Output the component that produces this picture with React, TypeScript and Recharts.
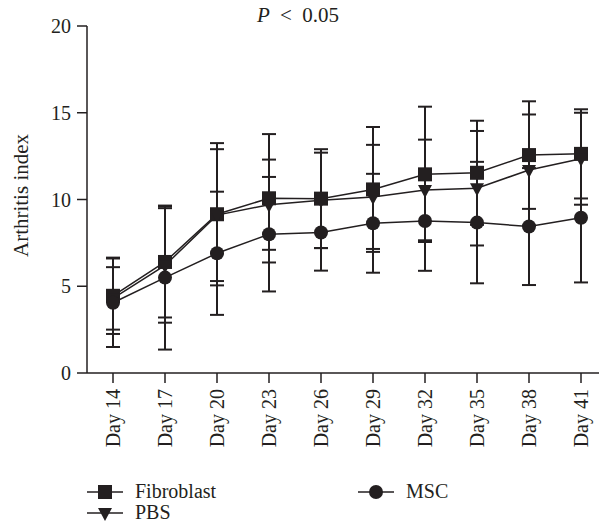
import { LineChart, Line, XAxis, YAxis, ErrorBar, Legend } from "recharts";

const days = ["Day 14", "Day 17", "Day 20", "Day 23", "Day 26", "Day 29", "Day 32", "Day 35", "Day 38", "Day 41"];
const fibroblast = [4.45, 6.4, 9.15, 10.07, 10.05, 10.58, 11.45, 11.54, 12.56, 12.63];
const fibroblastSd = [2.2, 3.2, 4.1, 3.7, 2.85, 3.6, 3.9, 3.0, 3.1, 2.57];
const pbs = [4.3, 6.2, 9.1, 9.7, 9.95, 10.15, 10.55, 10.65, 11.7, 12.35];
const pbsSd = [1.8, 3.3, 3.8, 2.6, 2.75, 3.0, 2.9, 3.3, 3.2, 2.65];
const msc = [4.05, 5.5, 6.9, 8.0, 8.1, 8.63, 8.76, 8.67, 8.44, 8.95];
const mscSd = [2.55, 4.15, 3.55, 3.3, 2.2, 2.85, 2.87, 3.5, 3.37, 3.73];
const yTicks = [0, 5, 10, 15, 20];

const data = days.map((day, i) => ({
  day,
  fibroblast: fibroblast[i],
  fibroblastSd: fibroblastSd[i],
  pbs: pbs[i],
  pbsSd: pbsSd[i],
  msc: msc[i],
  mscSd: mscSd[i],
}));

const ink = "#231f20";
const font = "'Liberation Serif', 'Times New Roman', serif";
const fs = 20;

const SquareDot = (props: any) => {
  const { cx, cy } = props;
  if (cx == null || cy == null) return null;
  return <rect x={cx - 7} y={cy - 7} width={14} height={14} fill={ink} />;
};

const TriangleDot = (props: any) => {
  const { cx, cy } = props;
  if (cx == null || cy == null) return null;
  return <path d={`M${cx - 7},${cy - 5} L${cx + 7},${cy - 5} L${cx},${cy + 8} Z`} fill={ink} />;
};

const CircleDot = (props: any) => {
  const { cx, cy } = props;
  if (cx == null || cy == null) return null;
  return <circle cx={cx} cy={cy} r={7} fill={ink} />;
};

const XTick = ({ x, y, payload }: any) => (
  <g transform={`translate(${x},${y})`}>
    <text transform="rotate(-90)" x={0} y={0} textAnchor="end" dominantBaseline="central" fill={ink} fontSize={fs} fontFamily={font}>
      {payload.value}
    </text>
  </g>
);

const YLabel = ({ viewBox }: any) => {
  const cx = viewBox.x + 21;
  const cy = viewBox.y + viewBox.height / 2 - 4;
  return (
    <text x={cx} y={cy} transform={`rotate(-90, ${cx}, ${cy})`} textAnchor="middle" dominantBaseline="central" fill={ink} fontSize={21} fontFamily={font}>
      Arthritis index
    </text>
  );
};

const marker = (kind: string) => (
  <svg width={36} height={20} style={{ position: "absolute", left: 0, top: -10 }}>
    <line x1={0} y1={10} x2={36} y2={10} stroke={ink} strokeWidth={1.5} />
    {kind === "square" && <rect x={11} y={3} width={14} height={14} fill={ink} />}
    {kind === "triangle" && <path d="M11,5 L25,5 L18,18 Z" fill={ink} />}
    {kind === "circle" && <circle cx={18} cy={10} r={7} fill={ink} />}
  </svg>
);

const legendItems = [
  { name: "Fibroblast", kind: "square", left: 87, top: 20 },
  { name: "PBS", kind: "triangle", left: 87, top: 41 },
  { name: "MSC", kind: "circle", left: 358, top: 20 },
];

const renderLegend = () => (
  <div style={{ position: "relative", width: 599, height: 50, fontFamily: font, fontSize: fs, color: ink }}>
    {legendItems.map((it) => (
      <div key={it.name} style={{ position: "absolute", left: it.left, top: it.top }}>
        {marker(it.kind)}
        <span style={{ position: "absolute", left: 48, top: -12, whiteSpace: "nowrap", lineHeight: "22px" }}>{it.name}</span>
      </div>
    ))}
  </div>
);

export default function App() {
  return (
    <div style={{ position: "absolute", left: 0, top: 0, width: 599, height: 532, background: "#fff" }}>
      <div style={{ position: "absolute", left: 0, top: 3, width: 596, textAlign: "center", fontFamily: font, fontSize: 21, color: ink, wordSpacing: 5, lineHeight: "24px" }}>
        <i>P</i> &lt; 0.05
      </div>
      <LineChart width={599} height={532} data={data} margin={{ top: 26, right: 0, left: 0, bottom: 10 }}>
        <XAxis
          dataKey="day"
          height={99}
          padding={{ left: 26, right: 18 }}
          tick={<XTick />}
          tickSize={10}
          tickMargin={6}
          interval={0}
          axisLine={{ stroke: ink, strokeWidth: 1.5 }}
          tickLine={{ stroke: ink, strokeWidth: 1.5 }}
        />
        <YAxis
          width={87}
          domain={[0, 20]}
          ticks={yTicks}
          tickSize={10}
          tickMargin={6}
          tick={{ fill: ink, fontSize: fs, fontFamily: font }}
          axisLine={{ stroke: ink, strokeWidth: 1.5 }}
          tickLine={{ stroke: ink, strokeWidth: 1.5 }}
          label={<YLabel />}
        />
        <Legend verticalAlign="bottom" content={renderLegend} wrapperStyle={{ left: 0, bottom: 10, width: 599 }} />
        <Line dataKey="fibroblast" name="Fibroblast" stroke={ink} strokeWidth={1.5} dot={<SquareDot />} activeDot={false} isAnimationActive={false}>
          <ErrorBar dataKey="fibroblastSd" width={7} stroke={ink} strokeWidth={2} direction="y" isAnimationActive={false} />
        </Line>
        <Line dataKey="pbs" name="PBS" stroke={ink} strokeWidth={1.5} dot={<TriangleDot />} activeDot={false} isAnimationActive={false}>
          <ErrorBar dataKey="pbsSd" width={7} stroke={ink} strokeWidth={2} direction="y" isAnimationActive={false} />
        </Line>
        <Line dataKey="msc" name="MSC" stroke={ink} strokeWidth={1.5} dot={<CircleDot />} activeDot={false} isAnimationActive={false}>
          <ErrorBar dataKey="mscSd" width={7} stroke={ink} strokeWidth={2} direction="y" isAnimationActive={false} />
        </Line>
      </LineChart>
    </div>
  );
}
